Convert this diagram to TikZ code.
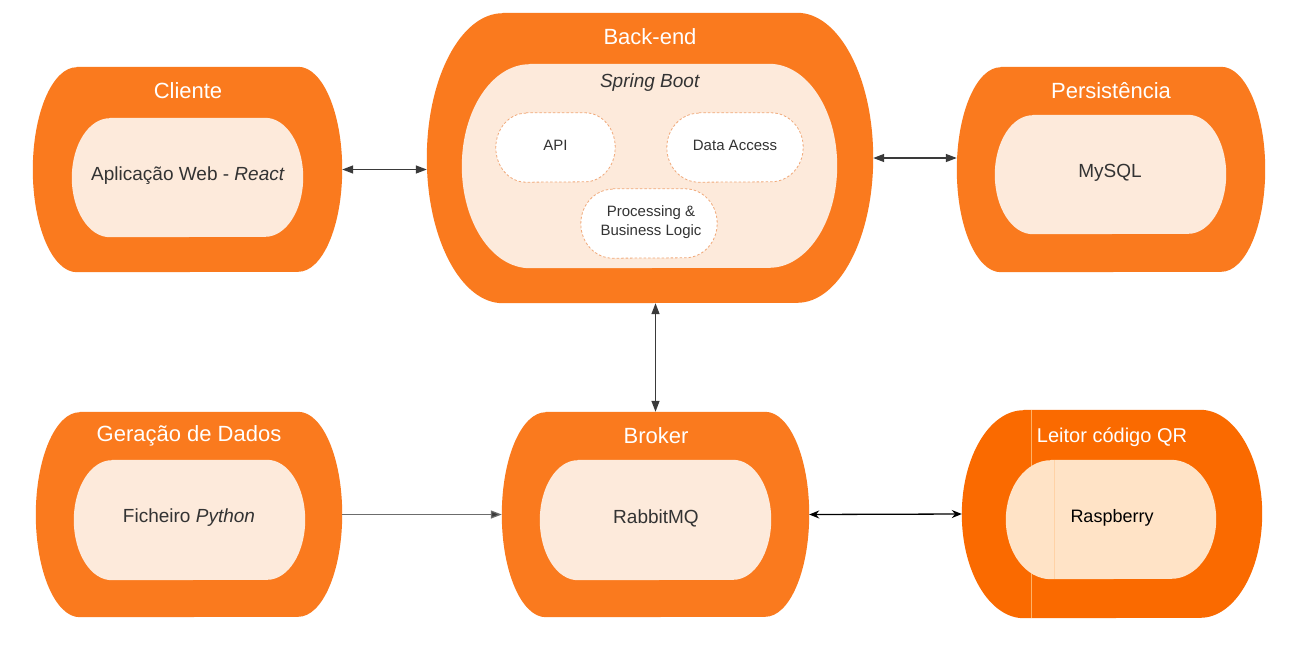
\documentclass[tikz,border=0pt]{standalone}
\usepackage{fontspec}
\setmainfont{Liberation Sans}
\usetikzlibrary{arrows.meta,calc}
\definecolor{outerO}{HTML}{FA7A1E}
\definecolor{innerO}{HTML}{FDEADB}
\definecolor{qrO}{HTML}{FA6A00}
\definecolor{qrIn}{HTML}{FFE3C6}
\definecolor{txtG}{HTML}{333333}
\definecolor{dashO}{HTML}{F0A878}
\definecolor{lineG}{HTML}{3A3A3A}
% name, cx, cy, w, h, rx, style
\newcommand\pillshape[7]{%
  \node[inner sep=0pt, minimum width=#4pt, minimum height=#5pt] (#1) at (#2,#3) {};
  \path[#7] ($(#1.north west)+(#6pt,0pt)$) -- ($(#1.north east)+(-#6pt,0pt)$)
     arc[start angle=90, end angle=-90, x radius=#6pt, y radius=#5pt/2]
     -- ($(#1.south west)+(#6pt,0pt)$)
     arc[start angle=270, end angle=90, x radius=#6pt, y radius=#5pt/2] -- cycle;
}
\tikzset{
  outerfill/.style={fill=outerO},
  innerfill/.style={fill=innerO},
  smallpill/.style={fill=white, draw=dashO, line width=0.8pt, dash pattern=on 2.5pt off 2pt},
  titletxt/.style={text=white, font=\fontsize{22}{26}\selectfont, inner sep=0pt},
  maintxt/.style={text=txtG, font=\fontsize{19}{23}\selectfont, inner sep=0pt},
  smalltxt/.style={text=txtG, font=\fontsize{15}{19}\selectfont, inner sep=0pt, align=center},
  conn/.style={draw=lineG, line width=1.3pt, {Triangle[length=11pt,width=8pt]}-{Triangle[length=11pt,width=8pt]}},
}
\begin{document}
\begin{tikzpicture}[x=1pt,y=-1pt]
\path[fill=white] (0,0) rectangle (1292,653);
\useasboundingbox (0,0) rectangle (1292,653);

% Cliente
\pillshape{cliente}{187.5}{169.5}{309}{205}{44}{outerfill}
\pillshape{clienteIn}{187.5}{177.5}{231}{119}{38}{innerfill}
\node[titletxt] (clienteT) at (188,91) {Cliente};
\node[maintxt] (clienteX) at (188,176) {Aplicação Web - \textit{React}};

% Back-end
\pillshape{backend}{650}{158}{446}{290}{76}{outerfill}
\pillshape{backendIn}{649.5}{166}{375}{204}{68}{innerfill}
\node[titletxt] (backendT) at (650,37) {Back-end};
\node[maintxt] (springT) at (650,83) {\textit{Spring Boot}};
\pillshape{api}{555.5}{147.5}{119}{69}{30}{smallpill}
\node[smalltxt] (apiT) at (555.5,145) {API};
\pillshape{dataacc}{735}{147.5}{136}{69}{32}{smallpill}
\node[smalltxt] (dataaccT) at (735,145) {Data Access};
\pillshape{proc}{649}{223.5}{136}{69}{32}{smallpill}
\node[smalltxt] (procT) at (651,222) {Processing \&\\Business Logic};

% Persistencia
\pillshape{persist}{1111}{169.5}{308}{205}{44}{outerfill}
\pillshape{persistIn}{1110.5}{174.5}{231}{119}{38}{innerfill}
\node[titletxt] (persistT) at (1111,91) {Persistência};
\node[maintxt] (persistX) at (1110,173) {MySQL};

% Geracao de Dados
\pillshape{gera}{189}{514.5}{306}{205}{44}{outerfill}
\pillshape{geraIn}{189.5}{520}{231}{120}{38}{innerfill}
\node[titletxt] (geraT) at (189,436) {Geração de Dados};
\node[maintxt] (geraX) at (189,518) {Ficheiro \textit{Python}};

% Broker
\pillshape{broker}{655.5}{514.5}{307}{205}{44}{outerfill}
\pillshape{brokerIn}{655.5}{520}{231}{120}{38}{innerfill}
\node[titletxt] (brokerT) at (656,436) {Broker};
\node[maintxt] (brokerX) at (656,518) {RabbitMQ};

% Leitor codigo QR
\pillshape{leitor}{1112}{514}{300}{208}{62}{fill=qrO}
\draw[color=orange!60!white, line width=0.6pt] (1031,410) -- (1031,618);
\pillshape{leitorIn}{1111}{519.5}{210}{119}{45}{fill=qrIn}
\draw[color=orange!35!white, line width=0.6pt] (1054,460) -- (1054,579);
\node[text=white, font=\fontsize{20}{24}\selectfont, inner sep=0pt] (leitorT) at (1112,437) {Leitor código QR};
\node[text=black, font=\fontsize{18}{22}\selectfont, inner sep=0pt] (leitorX) at (1112,518) {Raspberry};

% connectors
\draw[conn] (cliente.east) -- (cliente.east -| backend.west);
\draw[conn] (backend.east) -- (backend.east -| persist.west);
\draw[conn] (broker.north |- backend.south) -- (broker.north);
\draw[draw=gray!85!black, line width=1.2pt, -{Triangle[length=11pt,width=8pt,fill=lineG]}] (gera.east) -- (broker.west);
\draw[draw=black, line width=1.3pt, {Stealth[length=10pt,width=8pt]}-{Stealth[length=10pt,width=8pt]}] (broker.east) -- (leitor.west);
\end{tikzpicture}
\end{document}
